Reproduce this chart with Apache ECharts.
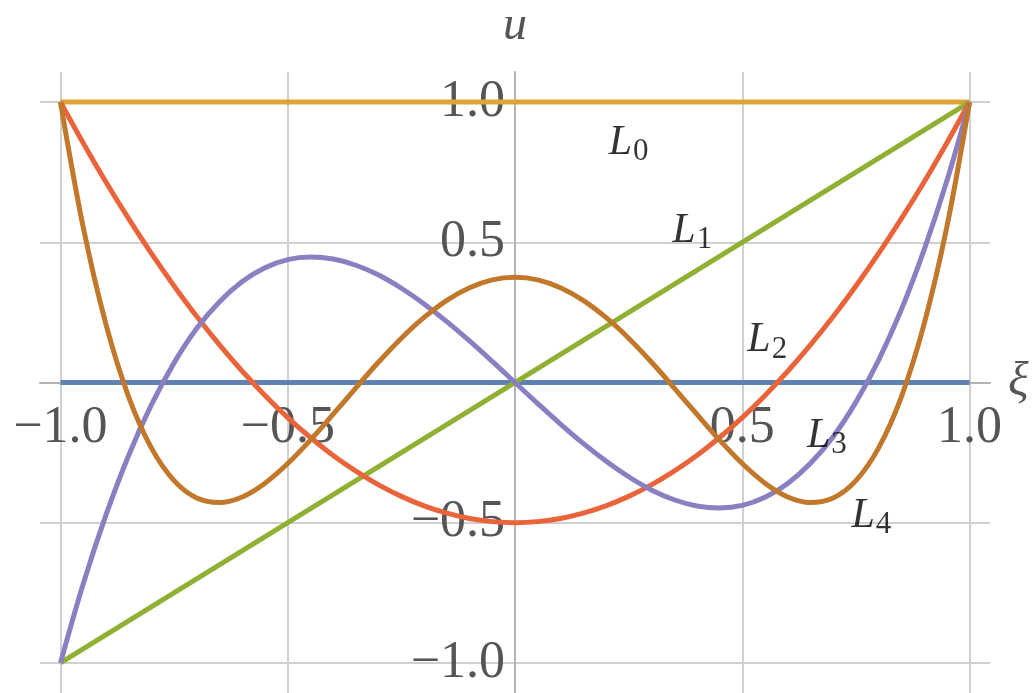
<!DOCTYPE html>
<html>
<head>
<meta charset="utf-8">
<title>Legendre polynomials L0–L4</title>
<script src="https://cdn.jsdelivr.net/npm/echarts@6/dist/echarts.min.js"></script>
<style>
  html, body { margin: 0; padding: 0; background: #ffffff; }
  #chart { width: 1034px; height: 693px; }
</style>
</head>
<body>
<div id="chart"></div>
<script>
// Sample abscissae ξ from -1 to 1 in steps of 0.05
const xs = [-1, -0.95, -0.9, -0.85, -0.8, -0.75, -0.7, -0.65, -0.6, -0.55, -0.5,
            -0.45, -0.4, -0.35, -0.3, -0.25, -0.2, -0.15, -0.1, -0.05, 0,
            0.05, 0.1, 0.15, 0.2, 0.25, 0.3, 0.35, 0.4, 0.45, 0.5,
            0.55, 0.6, 0.65, 0.7, 0.75, 0.8, 0.85, 0.9, 0.95, 1];

// Straight lines only need their end points
const xEnds = [-1, 1];
const zeroLine = [0, 0];
const L0 = [1, 1];
const L1 = [-1, 1];

const L2 = [1, 0.854, 0.715, 0.584, 0.46, 0.344, 0.235, 0.134, 0.04, -0.046, -0.125,
            -0.196, -0.26, -0.316, -0.365, -0.406, -0.44, -0.466, -0.485, -0.496, -0.5,
            -0.496, -0.485, -0.466, -0.44, -0.406, -0.365, -0.316, -0.26, -0.196, -0.125,
            -0.046, 0.04, 0.134, 0.235, 0.344, 0.46, 0.584, 0.715, 0.854, 1];

const L3 = [-1, -0.718, -0.473, -0.26, -0.08, 0.07, 0.193, 0.288, 0.36, 0.409, 0.438,
            0.447, 0.44, 0.418, 0.383, 0.336, 0.28, 0.217, 0.148, 0.075, 0,
            -0.075, -0.148, -0.217, -0.28, -0.336, -0.383, -0.418, -0.44, -0.447, -0.438,
            -0.409, -0.36, -0.288, -0.193, -0.07, 0.08, 0.26, 0.473, 0.718, 1];

const L4 = [1, 0.554, 0.208, -0.051, -0.233, -0.35, -0.412, -0.428, -0.408, -0.359, -0.289,
            -0.205, -0.113, -0.019, 0.073, 0.158, 0.232, 0.293, 0.338, 0.366, 0.375,
            0.366, 0.338, 0.293, 0.232, 0.158, 0.073, -0.019, -0.113, -0.205, -0.289,
            -0.359, -0.408, -0.428, -0.412, -0.35, -0.233, -0.051, 0.208, 0.554, 1];

// Grid lines and tick labels
const gridValues = [-1, -0.5, 0, 0.5, 1];
const tickValues = [-1, -0.5, 0.5, 1];
const tickLabels = ['\u22121.0', '\u22120.5', '0.5', '1.0'];

// Curve labels: index, anchor position (ξ, u)
const curveNames = ['0', '1', '2', '3', '4'];
const curveLabelX = [0.25, 0.39, 0.555, 0.686, 0.784];
const curveLabelY = [0.855, 0.54, 0.15, -0.19, -0.475];

const colors = {
  zero: '#5e81b5',
  L0: '#dca539',
  L1: '#8fb032',
  L2: '#e9643a',
  L3: '#8a7fc0',
  L4: '#c2782a'
};

// Axis ranges (the axes cross at the origin, halfway across each range)
const xRange = [-1.045, 1.045];
const yRange = [-1.107, 1.107];

const GRID = { left: 40, right: 44, top: 72, bottom: 0 };
const W = 1034, H = 693;
const plotW = W - GRID.left - GRID.right;
const plotH = H - GRID.top - GRID.bottom;

const pairs = (xv, yv) => xv.map((x, i) => [x, yv[i]]);

const serif = '"Liberation Serif", "DejaVu Serif", serif';

function curve(name, xv, yv, color, smooth) {
  return {
    name: name,
    type: 'line',
    data: pairs(xv, yv),
    showSymbol: false,
    smooth: smooth ? 0.35 : false,
    lineStyle: { color: color, width: 5 },
    itemStyle: { color: color },
    emphasis: { disabled: true },
    animation: false
  };
}

const tickFormatter = v => tickLabels[tickValues.findIndex(t => Math.abs(t - v) < 1e-9)] || '';

const chart = echarts.init(document.getElementById('chart'), null, { renderer: 'canvas' });

chart.setOption({
  backgroundColor: '#ffffff',
  animation: false,
  grid: Object.assign({ containLabel: false, outerBoundsMode: 'none' }, GRID),
  xAxis: {
    type: 'value',
    min: xRange[0],
    max: xRange[1],
    position: 'bottom',
    // shift the axis from the plot bottom up to u = 0
    offset: -plotH * (0 - yRange[0]) / (yRange[1] - yRange[0]),
    name: '\u03be',
    nameLocation: 'end',
    nameGap: 16,
    nameTextStyle: { fontFamily: serif, fontStyle: 'italic', fontSize: 48, color: '#555555', verticalAlign: 'middle', padding: [6, 0, 0, 0] },
    axisLine: { onZero: false, lineStyle: { color: '#b4b4b4', width: 2 } },
    axisTick: { show: false, customValues: gridValues },
    axisLabel: {
      customValues: tickValues,
      margin: 20,
      fontFamily: serif,
      fontSize: 52,
      color: '#555555',
      formatter: tickFormatter
    },
    splitLine: { show: true, lineStyle: { color: '#d0d0d0', width: 2 } }
  },
  yAxis: {
    type: 'value',
    min: yRange[0],
    max: yRange[1],
    position: 'left',
    // shift the axis from the plot's left edge across to ξ = 0
    offset: -plotW * (0 - xRange[0]) / (xRange[1] - xRange[0]),
    name: 'u',
    nameLocation: 'end',
    nameGap: 22,
    nameTextStyle: { fontFamily: serif, fontStyle: 'italic', fontSize: 48, color: '#555555', align: 'center' },
    axisLine: { onZero: false, lineStyle: { color: '#b4b4b4', width: 2 } },
    axisTick: { show: false, customValues: gridValues },
    axisLabel: {
      customValues: tickValues,
      margin: 10,
      fontFamily: serif,
      fontSize: 52,
      color: '#555555',
      formatter: tickFormatter
    },
    splitLine: { show: true, lineStyle: { color: '#d0d0d0', width: 2 } }
  },
  series: [
    curve('0', xEnds, zeroLine, colors.zero, false),
    curve('L0', xEnds, L0, colors.L0, false),
    curve('L1', xEnds, L1, colors.L1, false),
    curve('L2', xs, L2, colors.L2, true),
    curve('L3', xs, L3, colors.L3, true),
    curve('L4', xs, L4, colors.L4, true),
    {
      name: 'labels',
      type: 'scatter',
      symbolSize: 0,
      silent: true,
      z: 5,
      data: curveNames.map((n, i) => ({ value: [curveLabelX[i], curveLabelY[i]], name: n })),
      label: {
        show: true,
        position: 'inside',
        formatter: p => '{L|L}{s|' + p.name + '}',
        rich: {
          L: { fontFamily: serif, fontStyle: 'italic', fontSize: 42, color: '#000000', lineHeight: 48 },
          s: { fontFamily: serif, fontSize: 31, color: '#000000', lineHeight: 48, padding: [18, 0, 0, 1] }
        }
      },
      animation: false
    }
  ]
});
</script>
</body>
</html>
